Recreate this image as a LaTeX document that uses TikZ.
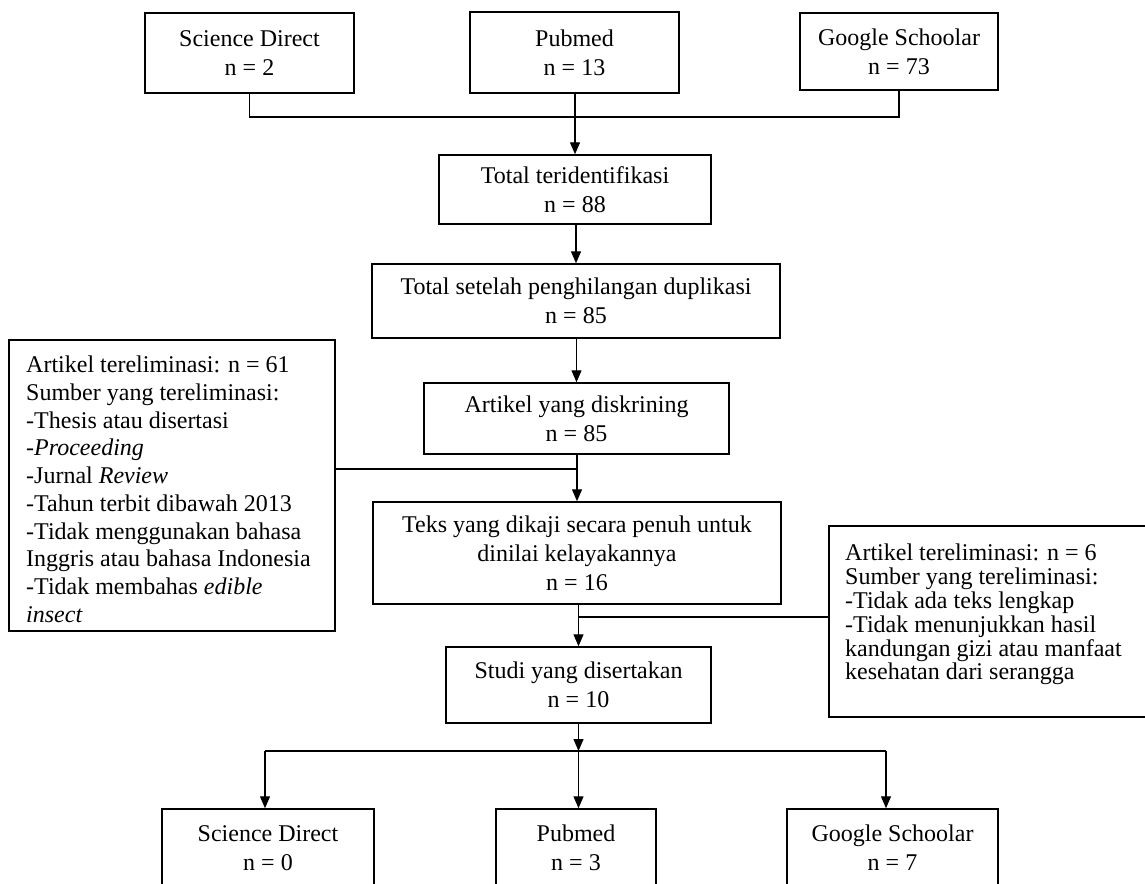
\documentclass[tikz,border=0pt]{standalone}
\usepackage{fontspec}
\setmainfont{Liberation Serif}
\usetikzlibrary{arrows.meta}
\begin{document}
\begin{tikzpicture}[x=1pt,y=-1pt,
  box/.style={draw, line width=1.5pt, inner sep=0pt, align=center, font=\fontsize{24pt}{29pt}\selectfont},
  frame/.style={draw, line width=1.5pt, inner sep=0pt},
  txt/.style={inner sep=0pt, align=left, anchor=north west},
  conn/.style={line width=1.3pt},
  arr/.style={conn, -{Triangle[width=10pt,length=12pt]}}]
\useasboundingbox (0,0) rectangle (1145,883);
\fill[white] (0,0) rectangle (1145,883);
\clip (0,0) rectangle (1145,883);
% top sources
\node[box, minimum width=209pt, minimum height=80pt] (sd1) at (249.5,53) {Science Direct\\n = 2};
\node[box, minimum width=209pt, minimum height=81pt] (pm1) at (574.5,52.5) {Pubmed\\n = 13};
\node[box, minimum width=198pt, minimum height=77pt] (gs1) at (899,51.5) {Google Schoolar\\n = 73};
% main column
\node[box, minimum width=272pt, minimum height=69pt] (tot) at (575,189.5) {Total teridentifikasi\\n = 88};
\node[box, minimum width=408pt, minimum height=74pt] (dup) at (576,301) {Total setelah penghilangan duplikasi\\n = 85};
\node[box, minimum width=305pt, minimum height=71pt] (skr) at (576.5,418.5) {Artikel yang diskrining\\n = 85};
\node[box, minimum width=408pt, minimum height=102pt] (teks) at (577,553) {Teks yang dikaji secara penuh untuk\\dinilai kelayakannya\\n = 16};
\node[box, minimum width=265pt, minimum height=76pt] (studi) at (578.5,685) {Studi yang disertakan\\n = 10};
% side boxes
\node[frame, minimum width=326pt, minimum height=291pt] (lbox) at (172,485.5) {};
\node[txt, font=\fontsize{24pt}{27.7pt}\selectfont] (ltxt) at (26,356) {Artikel tereliminasi: n = 61\\Sumber yang tereliminasi:\\-Thesis atau disertasi\\\textit{-Proceeding}\\-Jurnal \textit{Review}\\-Tahun terbit dibawah 2013\\-Tidak menggunakan bahasa\\Inggris atau bahasa Indonesia\\-Tidak membahas \textit{edible}\\\textit{insect}};
\node[frame, minimum width=331pt, minimum height=191pt] (rbox) at (994.5,621.5) {};
\node[txt, font=\fontsize{24pt}{23.8pt}\selectfont] (rtxt) at (845,544) {Artikel tereliminasi: n = 6\\Sumber yang tereliminasi:\\-Tidak ada teks lengkap\\-Tidak menunjukkan hasil\\kandungan gizi atau manfaat\\kesehatan dari serangga};
% bottom
\node[box, minimum width=212pt, minimum height=78pt] (sd2) at (268,848) {Science Direct\\n = 0};
\node[box, minimum width=160pt, minimum height=78pt] (pm2) at (576,848) {Pubmed\\n = 3};
\node[box, minimum width=211pt, minimum height=78pt] (gs2) at (892.5,848) {Google Schoolar\\n = 7};
% connectors
\coordinate (j1) at (575,117);
\draw[conn] (sd1.south) |- (j1) -| (gs1.south);
\draw[arr] (tot.north |- pm1.south) -- (tot.north);
\draw[arr] (dup.north |- tot.south) -- (dup.north);
\draw[arr] (skr.north |- dup.south) -- (skr.north);
\draw[arr] (teks.north |- skr.south) -- (teks.north);
\coordinate (jl) at (577,469);
\draw[conn] (lbox.east |- jl) -- (jl);
\draw[arr] (studi.north |- teks.south) -- (studi.north);
\coordinate (jr) at (578.5,617);
\draw[conn] (rbox.west |- jr) -- (jr);
\coordinate (jb) at (578.5,751);
\coordinate (b1) at (265,751);
\coordinate (b3) at (886,751);
\draw[arr] (studi.south) -- (jb);
\draw[conn] (b1) -- (b3);
\draw[arr] (b1) -- (b1 |- sd2.north);
\draw[arr] (jb) -- (jb |- pm2.north);
\draw[arr] (b3) -- (b3 |- gs2.north);
\end{tikzpicture}
\end{document}
